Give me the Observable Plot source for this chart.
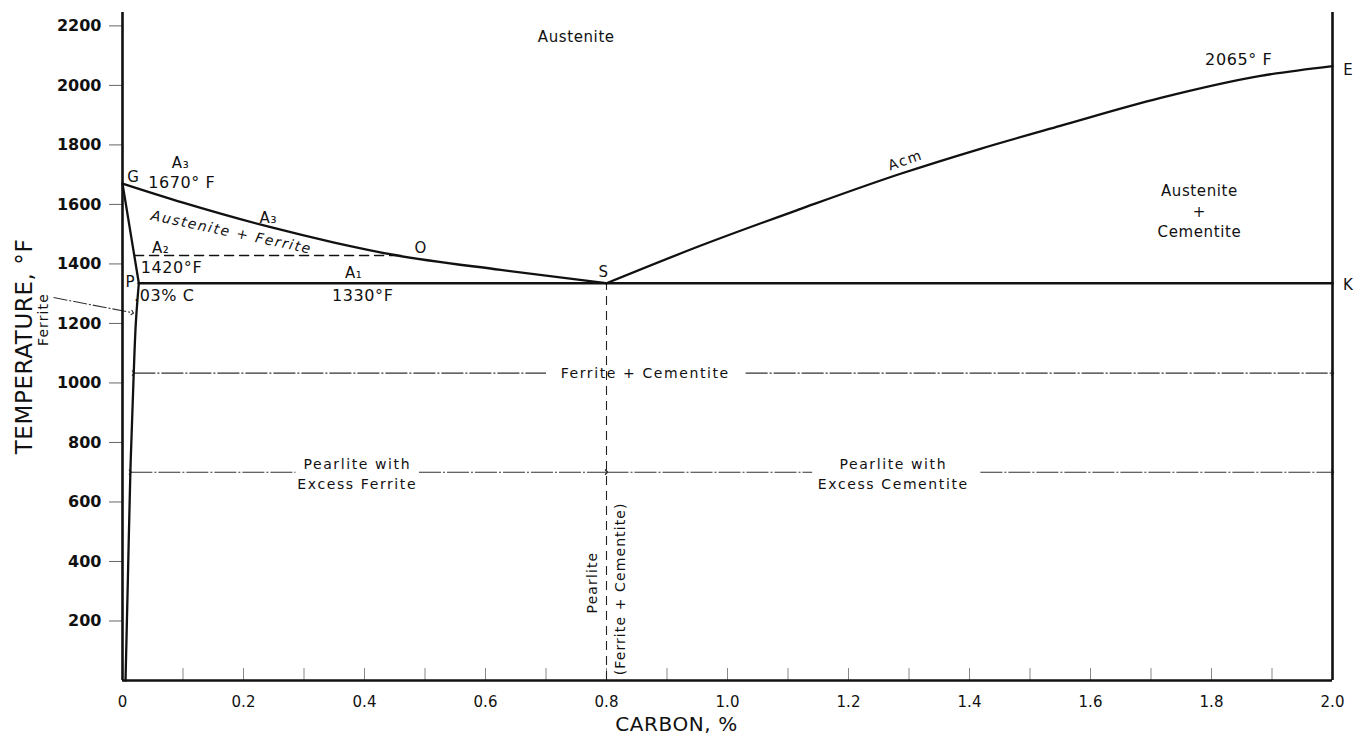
<!DOCTYPE html>
<html><head><meta charset="utf-8">
<script src="https://cdn.jsdelivr.net/npm/d3@7"></script>
<script src="https://cdn.jsdelivr.net/npm/@observablehq/plot@0.6"></script>
<style>
html,body{margin:0;padding:0;background:#fff;}
#chart svg{display:block;}
.spaced text{letter-spacing:1.6px;}
.vspaced text{letter-spacing:1.1px;}
.semi text{letter-spacing:0.6px;}
</style></head><body><div id="chart"></div>
<script>
// ---- axis ticks ----
const tempTicks = [200, 400, 600, 800, 1000, 1200, 1400, 1600, 1800, 2000, 2200];
const carbonTicks = [0, 0.2, 0.4, 0.6, 0.8, 1.0, 1.2, 1.4, 1.6, 1.8, 2.0];
const carbonTickLabels = ["0", "0.2", "0.4", "0.6", "0.8", "1.0", "1.2", "1.4", "1.6", "1.8", "2.0"];
const carbonMinorTicks = [0.1, 0.2, 0.3, 0.4, 0.5, 0.6, 0.7, 0.8, 0.9, 1.0, 1.1, 1.2, 1.3, 1.4, 1.5, 1.6, 1.7, 1.8, 1.9];
const tempMax = 2245;

// ---- phase boundaries (carbon %, temperature °F) ----
const a3Carbon = [0, 0.1, 0.24, 0.35, 0.45, 0.625, 0.8];
const a3Temp = [1670, 1606, 1526, 1472, 1430, 1380, 1335];
const acmCarbon = [0.8, 0.955, 1.121, 1.286, 1.418, 1.55, 1.716, 1.881, 2.0];
const acmTemp = [1335, 1461, 1585, 1703, 1787, 1864, 1958, 2032, 2065];
const gpCarbon = [0, 0.027];
const gpTemp = [1670, 1335];
const pqCarbon = [0.027, 0.022, 0.018, 0.013, 0.009, 0.005];
const pqTemp = [1335, 1200, 1000, 700, 350, 0];
const a1Carbon = [0.027, 2.0];
const a1Temp = [1335, 1335];
const a2Carbon = [0.02, 0.455];
const a2Temp = [1428, 1428];
const eutectoidCarbon = 0.8;
const eutectoidTemp = 1335;

// ---- region guide lines (left parts have arrow at start, right parts at end) ----
const guideLeftFrom = [0.018, 0.013, 0.8];
const guideLeftTo = [0.70, 0.286, 1.14];
const guideRightFrom = [1.03, 0.49, 1.418];
const guideRightTo = [2.0, 0.8, 2.0];
const guideTemp = [1033, 700, 700];

// ---- labels ----
const plainText = ["Austenite", "Austenite", "+", "Cementite", "G", "O", "P", "S", "E", "K", "A\u2083", "A\u2083", "A\u2082", "A\u2081"];
const plainCarbon = [0.750, 1.780, 1.780, 1.780, 0.018, 0.493, 0.013, 0.795, 2.026, 2.026, 0.096, 0.241, 0.063, 0.382];
const plainTemp = [2161, 1643, 1573, 1506, 1690, 1452, 1338, 1371, 2050, 1328, 1738, 1553, 1452, 1368];

const tempLabelText = ["2065\u00b0 F", "1670\u00b0 F", "1420\u00b0F", "1330\u00b0F"];
const tempLabelCarbon = [1.845, 0.098, 0.081, 0.397];
const tempLabelTemp = [2087, 1674, 1388, 1291];
const carbonNoteText = [".03% C"];
const carbonNoteCarbon = [0.019];
const carbonNoteTemp = [1294];

const phaseText = ["Ferrite + Cementite", "Pearlite with", "Excess Ferrite", "Pearlite with", "Excess Cementite"];
const phaseCarbon = [0.864, 0.388, 0.388, 1.274, 1.274];
const phaseTemp = [1033, 726, 659, 726, 659];

const verticalText = ["Pearlite", "(Ferrite + Cementite)", "Ferrite"];
const verticalCarbon = [0.777, 0.823, -0.131];
const verticalTemp = [329, 308, 1213];

const ferriteArrowFrom = [-0.114, 1287];
const ferriteArrowTo = [0.0165, 1236];

const zip = (xs, ys) => xs.map((x, i) => ({x, y: ys[i]}));
const lab = (t, xs, ys) => t.map((s, i) => ({text: s, x: xs[i], y: ys[i]}));
const tickLabel = new Map(carbonTicks.map((d, i) => [d, carbonTickLabels[i]]));

const guideLeft = guideTemp.map((t, i) => ({x1: guideLeftFrom[i], x2: guideLeftTo[i], y: t}));
const guideRight = guideTemp.map((t, i) => ({x1: guideRightFrom[i], x2: guideRightTo[i], y: t}));

const font = "DejaVu Sans";

const chart = Plot.plot({
  width: 1364,
  height: 739,
  marginLeft: 122,
  marginRight: 32,
  marginTop: 12,
  marginBottom: 59,
  style: {fontFamily: font, background: "white", overflow: "visible"},
  x: {domain: [0, 2], label: null},
  y: {domain: [0, tempMax], label: null},
  marks: [
    Plot.axisX({ticks: carbonMinorTicks, tickSize: -12, tickFormat: () => "", stroke: "#888", strokeWidth: 1, label: null}),
    Plot.axisX({ticks: carbonTicks, tickSize: 0, tickPadding: 16, tickFormat: d => tickLabel.get(d), fontSize: 15, fill: "#111", label: null}),
    Plot.axisY({ticks: tempTicks, tickSize: 13, tickPadding: 8, tickFormat: d => String(d), fontSize: 16, fontWeight: "bold", stroke: "#666", strokeWidth: 1, fill: "#111", label: null}),
    // guide lines
    Plot.link(guideLeft, {x1: "x1", x2: "x2", y1: "y", y2: "y", stroke: "#333", strokeWidth: 1.1, strokeDasharray: "22,2,2,2", markerStart: "arrow"}),
    Plot.link(guideRight, {x1: "x1", x2: "x2", y1: "y", y2: "y", stroke: "#333", strokeWidth: 1.1, strokeDasharray: "22,2,2,2", markerEnd: "arrow"}),
    Plot.link([{}], {x1: () => ferriteArrowFrom[0], y1: () => ferriteArrowFrom[1], x2: () => ferriteArrowTo[0], y2: () => ferriteArrowTo[1], stroke: "#333", strokeWidth: 1.1, strokeDasharray: "14,2,2,2", markerEnd: "arrow"}),
    // eutectoid vertical
    Plot.ruleX([eutectoidCarbon], {y1: 0, y2: eutectoidTemp, stroke: "#222", strokeWidth: 1.1, strokeDasharray: "9,6"}),
    // A2 dashed
    Plot.line(zip(a2Carbon, a2Temp), {x: "x", y: "y", stroke: "#111", strokeWidth: 1.5, strokeDasharray: "9,6"}),
    // frame lines
    Plot.ruleX([0, 2], {y1: 0, y2: tempMax, stroke: "#111", strokeWidth: 2.6}),
    Plot.ruleY([0], {x1: 0, x2: 2, stroke: "#111", strokeWidth: 2.6}),
    // boundaries
    Plot.line(zip(a3Carbon, a3Temp), {x: "x", y: "y", curve: "monotone-x", stroke: "#111", strokeWidth: 2.3}),
    Plot.line(zip(acmCarbon, acmTemp), {x: "x", y: "y", curve: "monotone-x", stroke: "#111", strokeWidth: 2.3}),
    Plot.line(zip(gpCarbon, gpTemp), {x: "x", y: "y", stroke: "#111", strokeWidth: 2.3}),
    Plot.line(zip(pqCarbon, pqTemp), {x: "x", y: "y", curve: "catmull-rom", stroke: "#111", strokeWidth: 2.3}),
    Plot.line(zip(a1Carbon, a1Temp), {x: "x", y: "y", stroke: "#111", strokeWidth: 2.6}),
    // labels
    Plot.text(lab(plainText, plainCarbon, plainTemp), {x: "x", y: "y", text: "text", fontSize: 15, fill: "#111", className: "semi"}),
    Plot.text(lab(tempLabelText, tempLabelCarbon, tempLabelTemp), {x: "x", y: "y", text: "text", fontSize: 16, fill: "#111", className: "semi"}),
    Plot.text(lab(carbonNoteText, carbonNoteCarbon, carbonNoteTemp), {x: "x", y: "y", text: "text", fontSize: 16, textAnchor: "start", fill: "#111", className: "semi"}),
    Plot.text(lab(phaseText, phaseCarbon, phaseTemp), {x: "x", y: "y", text: "text", fontSize: 14, fill: "#111", className: "spaced"}),
    Plot.text(lab(verticalText, verticalCarbon, verticalTemp), {x: "x", y: "y", text: "text", fontSize: 14, rotate: -90, fill: "#111", className: "vspaced"}),
    Plot.text(lab(["Acm"], [1.294], [1748]), {x: "x", y: "y", text: "text", fontSize: 14, rotate: -19, fill: "#111", className: "spaced"}),
    Plot.text(lab(["Austenite + Ferrite"], [0.180], [1506]), {x: "x", y: "y", text: "text", fontSize: 14, rotate: 12, fontStyle: "italic", fill: "#111", className: "spaced"}),
    // axis titles
    Plot.text(["TEMPERATURE, \u00b0F"], {frameAnchor: "left", textAnchor: "middle", lineAnchor: "middle", dx: -98, rotate: -90, fontSize: 23, fill: "#111", className: "semi"}),
    Plot.text(["CARBON, %"], {frameAnchor: "bottom", textAnchor: "middle", lineAnchor: "middle", dx: -51, dy: 44, fontSize: 20, fill: "#111", className: "semi"})
  ]
});
document.getElementById("chart").appendChild(chart);
</script>
</body></html>
